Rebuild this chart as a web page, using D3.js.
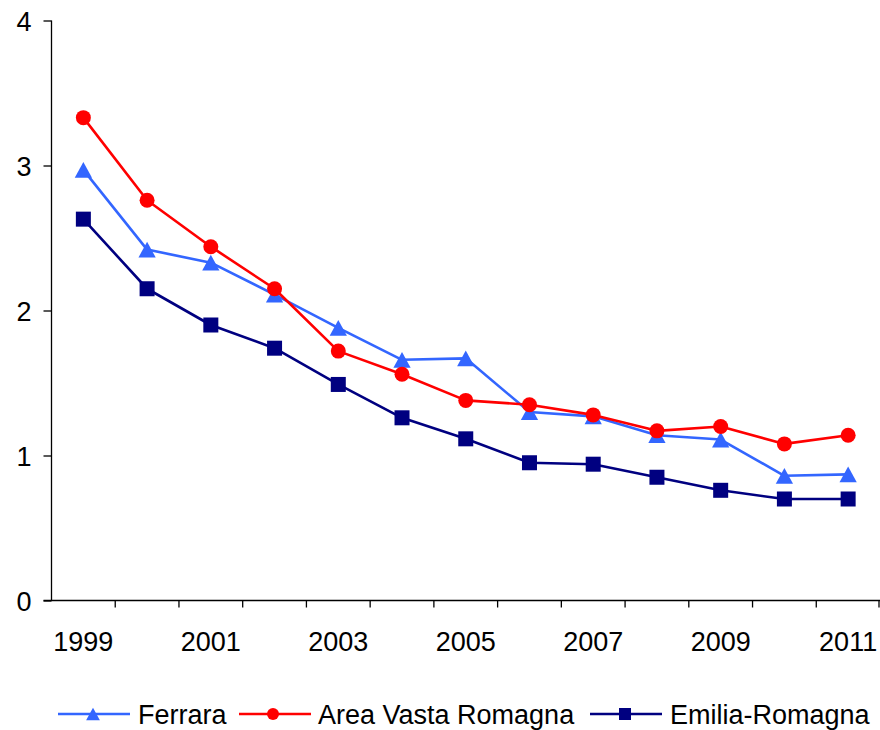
<!DOCTYPE html>
<html>
<head>
<meta charset="utf-8">
<script src="https://cdn.jsdelivr.net/npm/d3@7"></script>
<style>
  html, body { margin: 0; padding: 0; background: #fff; }
  svg { display: block; }
  text { font-family: "Liberation Sans", Arial, sans-serif; fill: #000; }
</style>
</head>
<body>
<svg id="chart" width="880" height="730"></svg>
<script>
// Years on the horizontal axis
const years = [1999, 2000, 2001, 2002, 2003, 2004, 2005, 2006, 2007, 2008, 2009, 2010, 2011];
// Years that carry a label
const yearLabels = [1999, 2001, 2003, 2005, 2007, 2009, 2011];
// Vertical axis ticks
const yTicks = [0, 1, 2, 3, 4];

// Series values
const ferrara = [2.97, 2.42, 2.33, 2.11, 1.88, 1.66, 1.67, 1.30, 1.27, 1.14, 1.11, 0.86, 0.87];
const areaVastaRomagna = [3.33, 2.76, 2.44, 2.15, 1.72, 1.56, 1.38, 1.35, 1.28, 1.17, 1.20, 1.08, 1.14];
const emiliaRomagna = [2.63, 2.15, 1.90, 1.74, 1.49, 1.26, 1.115, 0.95, 0.94, 0.85, 0.76, 0.70, 0.70];

const seriesNames = ["Ferrara", "Area Vasta Romagna", "Emilia-Romagna"];
const seriesValues = [ferrara, areaVastaRomagna, emiliaRomagna];
const seriesColors = ["#3366FF", "#FF0000", "#000080"];
const seriesShapes = ["triangle", "circle", "square"];

const svg = d3.select("#chart");

const x = d3.scaleBand().domain(years).range([51.5, 880]).padding(0);
const y = d3.scaleLinear().domain([0, 4]).range([600.5, 20.5]);
const cx = d => x(d) + x.bandwidth() / 2;

const axisColor = "#000";
const labelSize = "27px";

// Y axis
const yAxis = svg.append("g").attr("transform", `translate(${x.range()[0]},0)`)
  .call(d3.axisLeft(y).tickValues(yTicks).tickSize(8).tickPadding(12).tickFormat(d3.format("d")));
yAxis.select(".domain").attr("stroke", axisColor).attr("stroke-width", 1.3).attr("d", `M0,${y(4)}V${y(0)}`);
yAxis.selectAll(".tick line").attr("stroke", axisColor).attr("stroke-width", 1.3);
yAxis.selectAll(".tick text").style("font-size", labelSize).attr("dy", "0.36em")
  .style("font-family", "'Liberation Sans', Arial, sans-serif");

// X axis line and ticks at category boundaries
const xg = svg.append("g");
xg.append("line")
  .attr("x1", x.range()[0] - 8).attr("x2", x.range()[1])
  .attr("y1", y(0)).attr("y2", y(0))
  .attr("stroke", axisColor).attr("stroke-width", 1.3);
const boundaries = years.slice(1).map(d => x(d)).concat([x.range()[1] - 1]);
xg.selectAll("line.tk").data(boundaries).join("line").attr("class", "tk")
  .attr("x1", d => d).attr("x2", d => d)
  .attr("y1", y(0)).attr("y2", y(0) + 7)
  .attr("stroke", axisColor).attr("stroke-width", 1.3);
xg.selectAll("text").data(yearLabels).join("text")
  .attr("x", d => cx(d)).attr("y", 651)
  .attr("text-anchor", "middle")
  .style("font-size", labelSize)
  .text(d => d);

// Marker drawing
function drawMarker(g, shape, color, px, py, s) {
  if (shape === "circle") {
    g.append("circle").attr("cx", px).attr("cy", py).attr("r", s / 2).attr("fill", color);
  } else if (shape === "square") {
    g.append("rect").attr("x", px - s / 2).attr("y", py - s / 2).attr("width", s).attr("height", s).attr("fill", color);
  } else {
    const h = s * 1.05;
    const w = s * 1.15;
    g.append("path")
      .attr("d", `M${px},${py - h / 2}L${px + w / 2},${py + h / 2}L${px - w / 2},${py + h / 2}Z`)
      .attr("fill", color);
  }
}

// Series lines and markers
const line = d3.line().x((d, i) => cx(years[i])).y(d => y(d));
seriesValues.forEach((vals, k) => {
  const g = svg.append("g");
  g.append("path").datum(vals).attr("d", line)
    .attr("fill", "none").attr("stroke", seriesColors[k]).attr("stroke-width", 2.6)
    .attr("stroke-linejoin", "round");
  vals.forEach((v, i) => drawMarker(g, seriesShapes[k], seriesColors[k], cx(years[i]), y(v), 15));
});

// Legend
const legendItems = [
  { x0: 58, x1: 130, mx: 93, tx: 138 },
  { x0: 239, x1: 311, mx: 273, tx: 318 },
  { x0: 590, x1: 662, mx: 625, tx: 670 }
];
const legendY = 714;
legendItems.forEach((it, k) => {
  const g = svg.append("g");
  g.append("line").attr("x1", it.x0).attr("x2", it.x1).attr("y1", legendY).attr("y2", legendY)
    .attr("stroke", seriesColors[k]).attr("stroke-width", 2.6);
  drawMarker(g, seriesShapes[k], seriesColors[k], it.mx, legendY, 12);
  g.append("text").attr("x", it.tx).attr("y", 724).style("font-size", labelSize).text(seriesNames[k]);
});
</script>
</body>
</html>
